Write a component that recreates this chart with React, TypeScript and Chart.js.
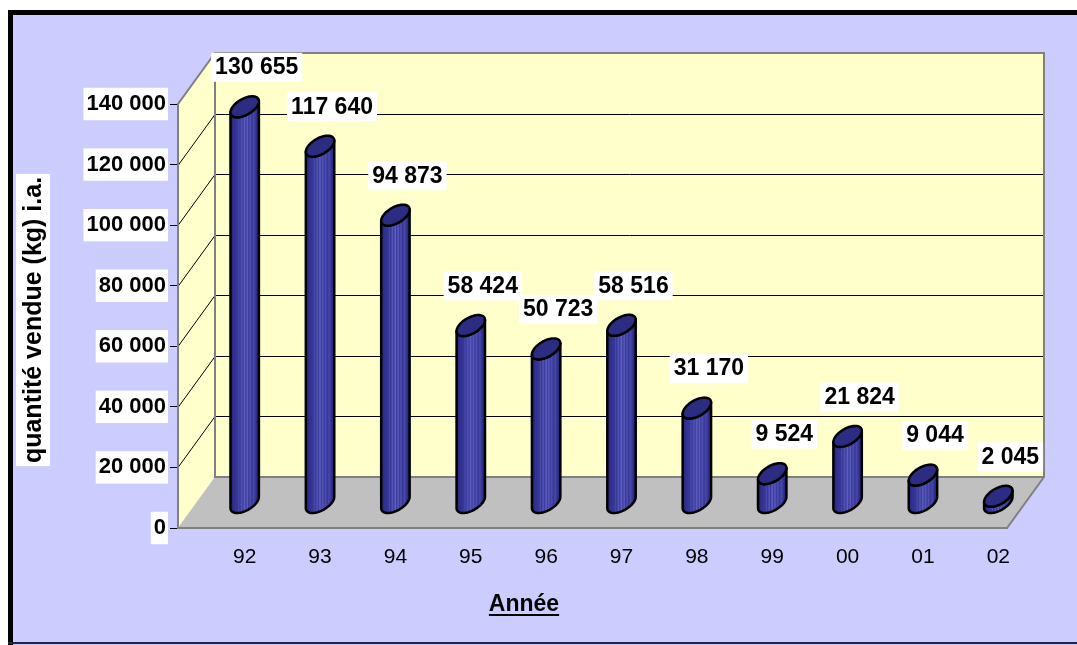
import React, { useEffect, useRef } from "react";
import { Chart, registerables } from "chart.js";

Chart.register(...registerables);

// ---------- data ----------
const years = ["92", "93", "94", "95", "96", "97", "98", "99", "00", "01", "02"];
const quantities = [130655, 117640, 94873, 58424, 50723, 58516, 31170, 9524, 21824, 9044, 2045];
const yMin = 0;
const yMax = 140000;
const yStep = 20000;
const yAxisTitle = "quantité vendue (kg) i.a.";
const xAxisTitle = "Année";

// ---------- style / geometry ----------
const W = 1077;
const H = 645;
const DEPTH_X = 37;
const DEPTH_Y = -51;
const CYL_SHIFT_X = 29;
const CYL_SHIFT_Y = -25.5;
const CYL_R = 12;
const CYL_S = 10.5;
const CYL_K = DEPTH_X / -DEPTH_Y;
const LABEL_DX = 12;
const LABEL_DY = 40;
const FONT = "'Liberation Sans', Arial, sans-serif";

const fmt = (v: number) => String(Math.round(v)).replace(/\B(?=(\d{3})+(?!\d))/g, " ");

const scenePlugin = {
  id: "scene3d",
  beforeDraw(chart: any) {
    const ctx = chart.ctx;
    const ca = chart.chartArea;
    const y = chart.scales.y;
    ctx.save();
    // page + frame
    ctx.fillStyle = "#ffffff";
    ctx.fillRect(0, 0, W, H);
    ctx.fillStyle = "#CCCCFF";
    ctx.fillRect(8, 10, W - 8, H - 10);
    ctx.fillStyle = "#000000";
    ctx.fillRect(8, 10, 5, H - 10);
    ctx.fillRect(8, 10, W - 8, 5);
    ctx.fillStyle = "#222244";
    ctx.fillRect(8, 642, W - 8, 2);

    const L = ca.left, R = ca.right, T = ca.top, B = ca.bottom;
    const dx = DEPTH_X, dy = DEPTH_Y;
    // left wall
    ctx.fillStyle = "#FFFFCC";
    ctx.beginPath();
    ctx.moveTo(L, B);
    ctx.lineTo(L, T);
    ctx.lineTo(L + dx, T + dy);
    ctx.lineTo(L + dx, B + dy);
    ctx.closePath();
    ctx.fill();
    // back wall
    ctx.fillRect(L + dx, T + dy, R - L, B - T);
    // floor
    ctx.fillStyle = "#C0C0C0";
    ctx.beginPath();
    ctx.moveTo(L, B);
    ctx.lineTo(R, B);
    ctx.lineTo(R + dx, B + dy);
    ctx.lineTo(L + dx, B + dy);
    ctx.closePath();
    ctx.fill();

    // gridlines
    ctx.strokeStyle = "#000000";
    ctx.lineWidth = 1;
    for (let v = yMin + yStep; v < yMax; v += yStep) {
      const py = Math.round(y.getPixelForValue(v)) + 0.5;
      ctx.beginPath();
      ctx.moveTo(L, py);
      ctx.lineTo(L + dx, py + dy);
      ctx.lineTo(R + dx, py + dy);
      ctx.stroke();
    }

    // wall edges
    ctx.strokeStyle = "#808080";
    ctx.lineWidth = 2;
    ctx.beginPath();
    ctx.moveTo(L, T);
    ctx.lineTo(L + dx, T + dy);
    ctx.lineTo(R + dx, T + dy);
    ctx.lineTo(R + dx, B + dy);
    ctx.lineTo(R, B);
    ctx.lineTo(L, B);
    ctx.moveTo(L + dx, T + dy);
    ctx.lineTo(L + dx, B + dy);
    ctx.lineTo(R + dx, B + dy);
    ctx.stroke();

    // y axis title
    ctx.font = `bold 25px ${FONT}`;
    const tw = ctx.measureText(yAxisTitle).width;
    ctx.translate(33, 320);
    ctx.rotate(-Math.PI / 2);
    ctx.fillStyle = "#ffffff";
    ctx.fillRect(-tw / 2 - 3, -17, tw + 6, 34);
    ctx.fillStyle = "#000000";
    ctx.textAlign = "center";
    ctx.textBaseline = "middle";
    ctx.fillText(yAxisTitle, 0, 1);
    ctx.restore();

    // x axis title (underlined)
    ctx.save();
    ctx.font = `bold 23px ${FONT}`;
    ctx.fillStyle = "#000000";
    ctx.textAlign = "center";
    ctx.textBaseline = "alphabetic";
    const ax = 524, ay = 611;
    ctx.fillText(xAxisTitle, ax, ay);
    const aw = ctx.measureText(xAxisTitle).width;
    ctx.fillRect(ax - aw / 2, ay + 3, aw, 2);
    ctx.restore();
  },
  afterDatasetsDraw(chart: any) {
    const ctx = chart.ctx;
    const meta = chart.getDatasetMeta(0);
    const y = chart.scales.y;
    const zeroY = y.getPixelForValue(0) + CYL_SHIFT_Y;
    const sk = CYL_S * CYL_K;
    const th0 = Math.atan2(sk, CYL_R);
    const E = Math.sqrt(CYL_R * CYL_R + sk * sk);
    ctx.save();
    meta.data.forEach((el: any) => {
      const cx = el.x + CYL_SHIFT_X;
      const topY = el.y + CYL_SHIFT_Y;
      const P = (t: number, cy: number) => [cx + CYL_R * Math.cos(t) + sk * Math.sin(t), cy - CYL_S * Math.sin(t)];
      const N = 40;
      // body
      ctx.beginPath();
      let p = P(th0 + Math.PI, topY);
      ctx.moveTo(p[0], p[1]);
      for (let i = 0; i <= N; i++) {
        const t = th0 + Math.PI + (Math.PI * i) / N;
        p = P(t, zeroY);
        ctx.lineTo(p[0], p[1]);
      }
      for (let i = 0; i <= N; i++) {
        const t = th0 + 2 * Math.PI - (Math.PI * i) / N;
        p = P(t, topY);
        ctx.lineTo(p[0], p[1]);
      }
      ctx.closePath();
      const g = ctx.createLinearGradient(cx - E, 0, cx + E, 0);
      const stops: [number, string][] = [
        [0, "#23236e"], [0.12, "#30308f"], [0.25, "#363699"], [0.3, "#4a4aaa"], [0.33, "#363699"],
        [0.4, "#5555b4"], [0.44, "#3a3a9e"], [0.5, "#6262c0"], [0.54, "#3c3ca2"], [0.6, "#5b5bba"],
        [0.64, "#3a3a9e"], [0.7, "#5050b0"], [0.75, "#36369a"], [0.82, "#4848a8"], [0.9, "#30308f"], [1, "#23236e"],
      ];
      stops.forEach(([o, c]) => g.addColorStop(o, c));
      ctx.fillStyle = g;
      ctx.fill();
      ctx.strokeStyle = "#000000";
      ctx.lineWidth = 2.5;
      ctx.lineJoin = "round";
      ctx.stroke();
      // top
      ctx.beginPath();
      for (let i = 0; i <= 2 * N; i++) {
        const t = (2 * Math.PI * i) / (2 * N);
        p = P(t, topY);
        if (i === 0) ctx.moveTo(p[0], p[1]);
        else ctx.lineTo(p[0], p[1]);
      }
      ctx.closePath();
      ctx.fillStyle = "#2C2C82";
      ctx.fill();
      ctx.stroke();
    });
    ctx.restore();
  },
  afterDraw(chart: any) {
    const ctx = chart.ctx;
    const meta = chart.getDatasetMeta(0);
    ctx.save();
    ctx.font = `bold 23px ${FONT}`;
    ctx.textAlign = "center";
    ctx.textBaseline = "middle";
    meta.data.forEach((el: any, i: number) => {
      const txt = fmt(quantities[i]);
      const tx = el.x + CYL_SHIFT_X + LABEL_DX;
      const ty = el.y + CYL_SHIFT_Y - LABEL_DY;
      const w = ctx.measureText(txt).width;
      ctx.fillStyle = "#ffffff";
      ctx.fillRect(tx - w / 2 - 4, ty - 14, w + 8, 29);
      ctx.fillStyle = "#000000";
      ctx.fillText(txt, tx, ty + 1);
    });
    ctx.restore();
  },
};

export default function App() {
  const ref = useRef<HTMLCanvasElement | null>(null);
  useEffect(() => {
    if (!ref.current) return;
    const chart = new Chart(ref.current, {
      type: "bar",
      data: {
        labels: years,
        datasets: [
          {
            label: "quantité vendue",
            data: quantities,
            backgroundColor: "rgba(0,0,0,0)",
            borderWidth: 0,
          },
        ],
      },
      options: {
        responsive: false,
        animation: false,
        devicePixelRatio: 1,
        layout: { padding: { left: 0, right: 70, top: 104, bottom: 57 } },
        plugins: {
          legend: { display: false },
          tooltip: { enabled: false },
          title: { display: false },
        },
        scales: {
          x: {
            grid: { display: false, drawTicks: false },
            border: { display: false },
            ticks: {
              color: "#000000",
              font: { family: FONT, size: 21 },
              labelOffset: CYL_SHIFT_X,
              padding: 17,
              maxRotation: 0,
              autoSkip: false,
            },
            afterFit: (s: any) => {
              s.height = 60;
            },
          },
          y: {
            min: yMin,
            max: yMax,
            grid: { drawOnChartArea: false, color: "#000000", tickLength: 8, lineWidth: 1 },
            border: { color: "#808080", width: 2 },
            ticks: {
              stepSize: yStep,
              color: "#000000",
              font: { family: FONT, size: 22, weight: "bold" },
              padding: 4,
              callback: (v: any) => fmt(Number(v)),
              showLabelBackdrop: true,
              backdropColor: "#ffffff",
              backdropPadding: { top: 3, bottom: 3, left: 3, right: 2 },
            },
            afterFit: (s: any) => {
              s.width = 178;
            },
          },
        },
      },
      plugins: [scenePlugin],
    } as any);
    return () => chart.destroy();
  }, []);
  return (
    <div style={{ position: "fixed", left: 0, top: 0, width: W, height: H }}>
      <canvas ref={ref} width={W} height={H} style={{ display: "block" }} />
    </div>
  );
}
